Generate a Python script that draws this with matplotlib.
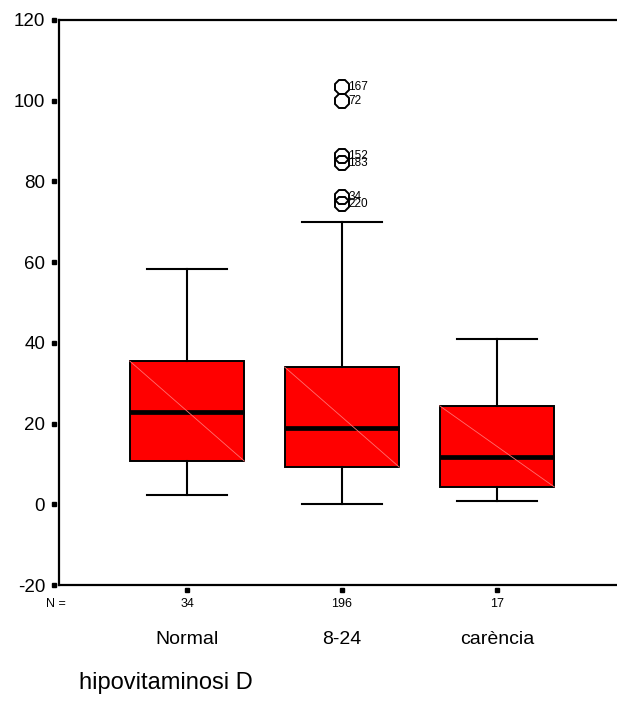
import matplotlib
matplotlib.use("Agg")
import matplotlib.pyplot as plt
import matplotlib.transforms as mtransforms

plt.rcParams['font.family'] = ['Liberation Sans', 'DejaVu Sans']

# Data: vitamin D groups
categories = ["Normal", "8-24", "carència"]
group_n = [34, 196, 17]
whisker_low = [2.2, 0.0, 0.8]
q1 = [10.7, 9.2, 4.3]
median = [22.9, 19.0, 11.7]
q3 = [35.5, 34.0, 24.4]
whisker_high = [58.4, 70.0, 40.9]
outlier_values = [[], [103.3, 99.9, 86.2, 84.6, 76.2, 74.5], []]
outlier_ids = [[], ["167", "72", "152", "183", "34", "220"], []]
y_ticks = [-20, 0, 20, 40, 60, 80, 100, 120]
axis_title = "hipovitaminosi D"

W, H = 617, 716
fig = plt.figure(figsize=(W / 100, H / 100), dpi=100)
ax_left, ax_right, ax_top, ax_bottom = 59, 625, 20, 585
ax = fig.add_axes([ax_left / W, 1 - ax_bottom / H,
                   (ax_right - ax_left) / W, (ax_bottom - ax_top) / H])

positions = [1, 2, 3]
box_w = 0.74
stats = []
for i in range(3):
    stats.append(dict(whislo=whisker_low[i], q1=q1[i], med=median[i],
                      q3=q3[i], whishi=whisker_high[i],
                      fliers=outlier_values[i], label=categories[i]))

ax.bxp(stats, positions=positions, widths=box_w, capwidths=0.52,
       patch_artist=True, showfliers=True,
       boxprops=dict(facecolor="#ff0000", edgecolor="black", linewidth=1.4),
       medianprops=dict(color="black", linewidth=3.4, solid_capstyle="butt"),
       whiskerprops=dict(color="black", linewidth=1.5),
       capprops=dict(color="black", linewidth=1.5),
       flierprops=dict(marker="8", markersize=10.5, markerfacecolor="none",
                       markeredgecolor="black", markeredgewidth=1.4))

# faint diagonal shading line across each box
for i, x in enumerate(positions):
    ax.plot([x - box_w / 2, x + box_w / 2], [q3[i], q1[i]],
            color="#ff7070", linewidth=0.6, zorder=2.5)

# outlier case labels
for i, x in enumerate(positions):
    for v, lab in zip(outlier_values[i], outlier_ids[i]):
        ax.annotate(lab, (x, v), xytext=(4.5, 0), textcoords="offset points",
                    ha="left", va="center", fontsize=8.5)

ax.set_xlim(0.174, 3.826)
ax.set_ylim(-20, 120)
ax.spines["right"].set_visible(False)
for s in ["left", "top", "bottom"]:
    ax.spines[s].set_linewidth(1.6)

ax.set_yticks(y_ticks)
ax.set_yticklabels([str(t) for t in y_ticks], fontsize=13.5)
ax.tick_params(axis="y", length=0, pad=10)
ax.set_xticks(positions)
ax.set_xticklabels([])
ax.tick_params(axis="x", length=0)

# square tick marks set off from the axis lines
ytr = mtransforms.blended_transform_factory(ax.transAxes, ax.transData) + \
    mtransforms.ScaledTranslation(-5 / 100, 0, fig.dpi_scale_trans)
ax.plot([0] * len(y_ticks), y_ticks, ls="none", marker="s", markersize=3,
        color="black", transform=ytr, clip_on=False)
xtr = mtransforms.blended_transform_factory(ax.transData, ax.transAxes) + \
    mtransforms.ScaledTranslation(0, -4.5 / 100, fig.dpi_scale_trans)
ax.plot(positions, [0] * 3, ls="none", marker="s", markersize=3,
        color="black", transform=xtr, clip_on=False)

# counts row and category names
ntr = mtransforms.blended_transform_factory(ax.transData, fig.transFigure)
ax.text(0.155, 1 - 604 / H, "N =", transform=ntr, ha="center", va="center",
        fontsize=9)
for x, n, c in zip(positions, group_n, categories):
    ax.text(x, 1 - 604 / H, str(n), transform=ntr, ha="center", va="center",
            fontsize=9)
    ax.text(x, 1 - 640 / H, c, transform=ntr, ha="center", va="center",
            fontsize=14)

fig.text(79 / W, 1 - 683 / H, axis_title, ha="left", va="center", fontsize=17)

fig.savefig("out.png", dpi=100, facecolor="white")
